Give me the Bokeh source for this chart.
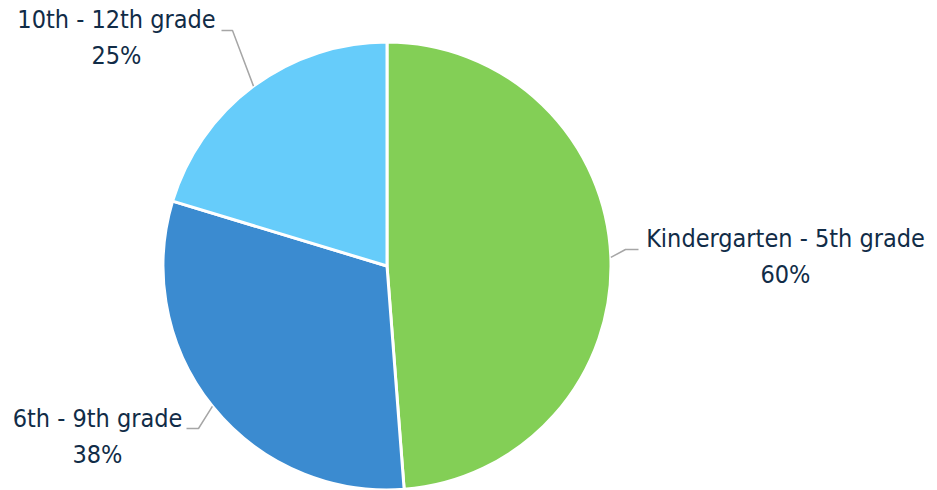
import math
from bokeh.plotting import figure
from bokeh.models import Range1d, ColumnDataSource
from bokeh.core.properties import value
from bokeh.embed import file_html
from bokeh.resources import INLINE

# ---- data ----
categories = ["Kindergarten - 5th grade", "6th - 9th grade", "10th - 12th grade"]
percents = [60, 38, 25]
colors = ["#83CF56", "#3B8BD0", "#66CCFA"]

# ---- layout (px) ----
W, H = 929, 490
CX, CY_S, R = 386.5, 265.5, 224
# label block centre, leader elbow, leader end (px from top-left)
label_pos = [(785, 256), (97, 436), (116, 37)]
elbow_pos = [(625, 249), (198, 428), (232, 30)]
end_pos = [(638, 249), (186, 428), (221, 30)]
FONT = "'DejaVu Sans Condensed', 'Liberation Sans', sans-serif"
TEXT_COLOR = "#112C47"
LEADER_COLOR = "#A6A6A6"


def Y(sy):
    return H - sy


p = figure(width=W, height=H, output_backend="svg", toolbar_location=None,
           x_range=Range1d(0, W), y_range=Range1d(0, H), min_border=0)
p.axis.visible = False
p.grid.visible = False
p.outline_line_color = None
p.background_fill_color = "white"
p.border_fill_color = "white"

total = sum(percents)
starts, ends, mids = [], [], []
cum = 0
for v in percents:
    a0 = math.pi / 2 - 2 * math.pi * cum / total
    cum += v
    a1 = math.pi / 2 - 2 * math.pi * cum / total
    starts.append(a0)
    ends.append(a1)
    mids.append((a0 + a1) / 2)

src = ColumnDataSource(dict(x=[CX] * 3, y=[Y(CY_S)] * 3, start=starts, end=ends,
                            color=colors))
p.wedge(x="x", y="y", radius=R, radius_units="screen", start_angle="start",
        end_angle="end", direction="clock", fill_color="color",
        line_color="white", line_width=3, source=src)

# leader lines
for m, el, en in zip(mids, elbow_pos, end_pos):
    sx = CX + R * math.cos(m)
    sy = CY_S - R * math.sin(m)
    p.line([sx, el[0], en[0]], [Y(sy), Y(el[1]), Y(en[1])],
           line_color=LEADER_COLOR, line_width=1.5)

texts = [f"{c}\n{v}%" for c, v in zip(categories, percents)]
lsrc = ColumnDataSource(dict(x=[lp[0] for lp in label_pos],
                             y=[Y(lp[1]) for lp in label_pos], t=texts))
p.text(x="x", y="y", text="t", source=lsrc, text_align="center",
       text_baseline="middle", text_font=value(FONT), text_font_size="25px",
       text_color=TEXT_COLOR, text_line_height=1.22)

open("out.html", "w").write(file_html(p, INLINE))
